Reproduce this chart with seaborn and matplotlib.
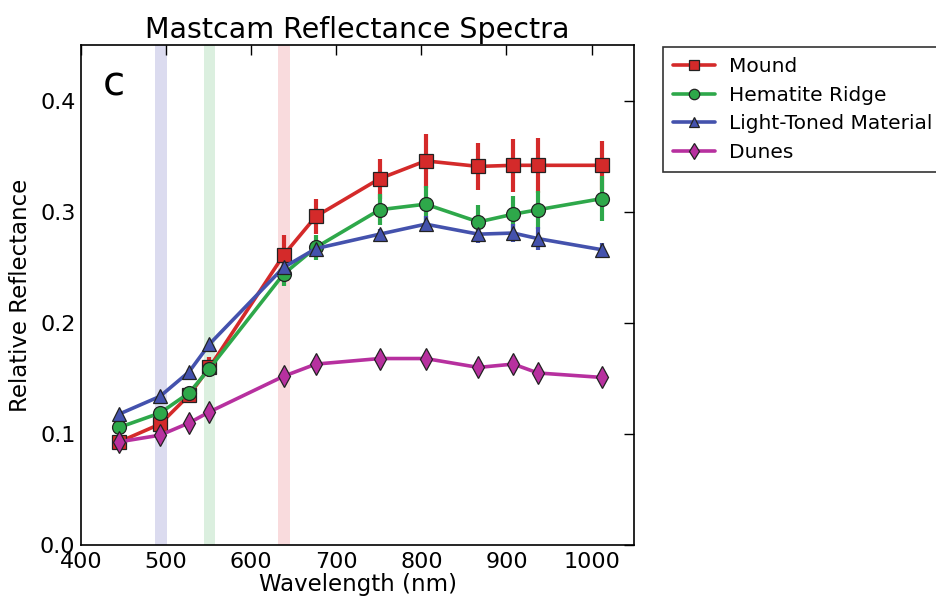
import matplotlib
matplotlib.use('Agg')
import matplotlib.pyplot as plt
import seaborn as sns
import pandas as pd

# Mastcam filter centres (nm)
wavelength = [445, 493, 527, 551, 638, 676, 751, 805, 867, 908, 937, 1012]

mound = [0.093, 0.109, 0.135, 0.160, 0.261, 0.296, 0.330, 0.346, 0.341, 0.342, 0.342, 0.342]
mound_err = [0.003, 0.004, 0.006, 0.009, 0.018, 0.016, 0.018, 0.024, 0.021, 0.024, 0.025, 0.022]

hematite = [0.106, 0.119, 0.137, 0.159, 0.244, 0.268, 0.302, 0.307, 0.291, 0.298, 0.302, 0.312]
hematite_err = [0.003, 0.004, 0.005, 0.007, 0.011, 0.011, 0.014, 0.016, 0.015, 0.016, 0.017, 0.020]

light_toned = [0.118, 0.134, 0.156, 0.181, 0.250, 0.267, 0.280, 0.289, 0.280, 0.281, 0.276, 0.266]
light_toned_err = [0.002, 0.002, 0.003, 0.003, 0.004, 0.005, 0.005, 0.007, 0.008, 0.008, 0.010, 0.006]

dunes = [0.093, 0.099, 0.110, 0.120, 0.152, 0.163, 0.168, 0.168, 0.160, 0.163, 0.155, 0.151]
dunes_err = [0.002, 0.002, 0.002, 0.002, 0.002, 0.002, 0.002, 0.002, 0.002, 0.002, 0.002, 0.002]

series = [
    ('Mound', mound, mound_err, '#d42a2a', 's'),
    ('Hematite Ridge', hematite, hematite_err, '#2ea84a', 'o'),
    ('Light-Toned Material', light_toned, light_toned_err, '#4452ad', '^'),
    ('Dunes', dunes, dunes_err, '#b7309f', 'd'),
]

# RGB filter bands (centre wavelengths)
bands = [(494, '#b8b8e0'), (551, '#b8e0c0'), (639, '#f5b8bc')]

sns.set_style('white')
plt.rcParams['font.family'] = ['DejaVu Sans']
plt.rcParams.update({'text.color': 'black', 'axes.labelcolor': 'black',
                     'xtick.color': 'black', 'ytick.color': 'black'})

fig = plt.figure(figsize=(9.36, 6.05), dpi=100)
ax = fig.add_axes([0.0865, 0.099, 0.591, 0.826])

for c, col in bands:
    ax.axvspan(c - 7, c + 7, color=col, alpha=0.5, lw=0, zorder=0)

for name, vals, err, col, mk in series:
    df = pd.DataFrame({'wavelength': wavelength, 'reflectance': vals})
    ax.errorbar(wavelength, vals, yerr=err, fmt='none', ecolor=col, elinewidth=3, capsize=0, zorder=2)
    sns.lineplot(data=df, x='wavelength', y='reflectance', ax=ax, color=col, lw=2.6,
                 marker=mk, markersize=10 if mk != 'd' else 11, markeredgecolor='#222222',
                 markeredgewidth=0.9, label=name, zorder=3)

ax.set_xlim(400, 1050)
ax.set_ylim(0, 0.45)
ax.set_xticks([400, 500, 600, 700, 800, 900, 1000])
ax.set_yticks([0.0, 0.1, 0.2, 0.3, 0.4])
ax.tick_params(direction='in', length=7, width=1, labelsize=16, top=True, right=True, pad=4)
ax.tick_params(axis='x', pad=5)
for s in ax.spines.values():
    s.set_linewidth(1.2)
    s.set_color('black')

ax.set_xlabel('Wavelength (nm)', fontsize=16.5, labelpad=1)
ax.set_ylabel('Relative Reflectance', fontsize=16.5, labelpad=6)
ax.set_title('Mastcam Reflectance Spectra', fontsize=20.5, pad=5)
ax.text(0.04, 0.9, 'c', transform=ax.transAxes, fontsize=29, va='baseline', ha='left')

leg = ax.legend(loc='upper left', bbox_to_anchor=(1.052, 0.996), fontsize=14.5, frameon=True,
                fancybox=False, edgecolor='black', borderpad=0.5, handlelength=2.1,
                handletextpad=0.7, labelspacing=0.47, markerscale=0.75, borderaxespad=0)
leg.get_frame().set_linewidth(1.2)

fig.savefig('out.png', dpi=100)
